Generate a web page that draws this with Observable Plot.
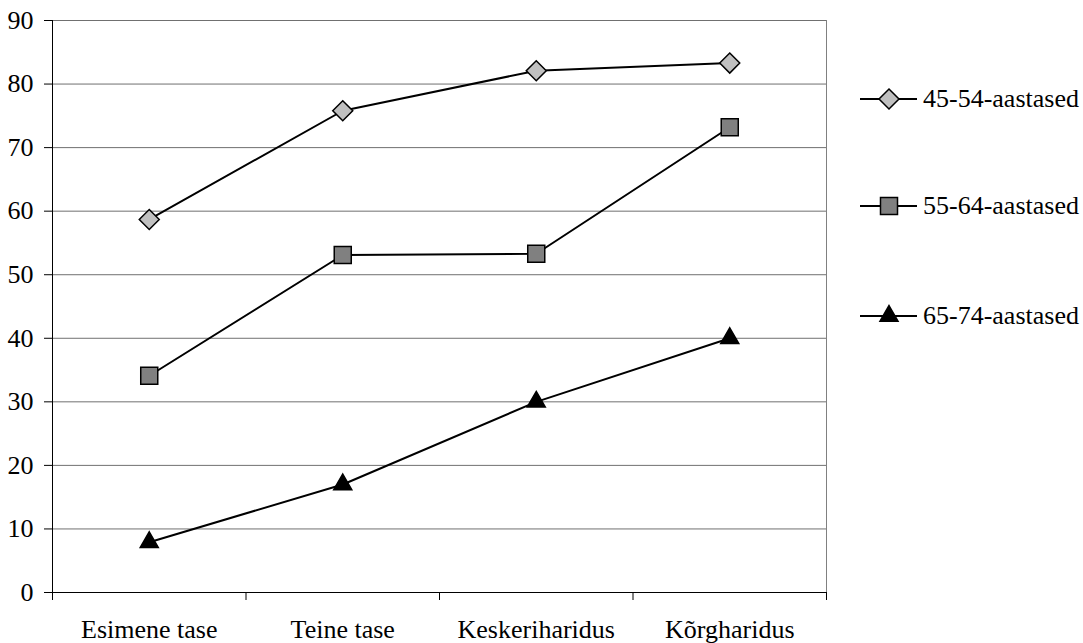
<!DOCTYPE html>
<html>
<head>
<meta charset="utf-8">
<script src="https://cdn.jsdelivr.net/npm/d3@7"></script>
<script src="https://cdn.jsdelivr.net/npm/@observablehq/plot@0.6"></script>
<style>
  body { margin: 0; background: #fff; }
  #wrap { position: relative; width: 1083px; height: 643px; }
  #wrap svg, #wrap text { font-family: "Liberation Serif", "Times New Roman", Tinos, "DejaVu Serif", serif !important; }
  #legend { position: absolute; left: 0; top: 0; }
</style>
</head>
<body>
<div id="wrap"></div>
<script>
const categories = ["Esimene tase", "Teine tase", "Keskeriharidus", "Kõrgharidus"];
const seriesNames = ["45-54-aastased", "55-64-aastased", "65-74-aastased"];
const values4554 = [58.7, 75.8, 82.1, 83.3];
const values5564 = [34.1, 53.1, 53.3, 73.2];
const values6574 = [7.9, 17.0, 30.0, 40.0];
const yTicks = [0, 10, 20, 30, 40, 50, 60, 70, 80, 90];

const seriesValues = [values4554, values5564, values6574];
const symbols = ["diamond2", "square", "triangle"];
const fills = ["#c0c0c0", "#808080", "#000000"];
const radii = [9, 9.6, 6.7];

const data = [];
seriesValues.forEach((vals, s) => vals.forEach((v, i) => data.push({series: seriesNames[s], idx: i + 0.5, value: v})));

const marks = [
  Plot.frame({stroke: "#808080"}),
  Plot.gridY(yTicks, {stroke: "#707070", strokeOpacity: 1}),
  Plot.ruleX([0], {stroke: "black"}),
  Plot.ruleY([0], {stroke: "black"}),
  Plot.axisY({ticks: yTicks, tickSize: 8, tickPadding: 11}),
  Plot.axisX({ticks: [0, 1, 2, 3, 4], tickSize: 8, tickFormat: () => ""}),
  Plot.axisX({ticks: [0.5, 1.5, 2.5, 3.5], tickSize: 0, tickPadding: 27, tickFormat: d => categories[Math.floor(d)]})
];
seriesNames.forEach((name, s) => {
  const rows = data.filter(d => d.series === name);
  marks.push(Plot.line(rows, {x: "idx", y: "value", stroke: "black", strokeWidth: 2}));
});
seriesNames.forEach((name, s) => {
  const rows = data.filter(d => d.series === name);
  marks.push(Plot.dot(rows, {x: "idx", y: "value", symbol: symbols[s], r: radii[s], fill: fills[s], stroke: "black", strokeWidth: 1.5}));
});

const chart = Plot.plot({
  width: 1083,
  height: 643,
  marginLeft: 52,
  marginRight: 257,
  marginTop: 20,
  marginBottom: 51,
  x: {domain: [0, 4], label: null, axis: null},
  y: {domain: [0, 90], label: null, axis: null},
  style: {fontSize: "26px", color: "black", background: "white"},
  marks
});
const wrap = document.getElementById("wrap");
wrap.appendChild(chart);

// Legend
const legend = d3.select(wrap).append("svg")
  .attr("id", "legend").attr("width", 1083).attr("height", 643);
const legendY = [99, 206, 316];
const d3syms = [d3.symbolDiamond2, d3.symbolSquare, d3.symbolTriangle];
seriesNames.forEach((name, s) => {
  const g = legend.append("g").attr("transform", `translate(0,${legendY[s]})`);
  g.append("line").attr("x1", 860).attr("x2", 917).attr("y1", 0).attr("y2", 0).attr("stroke", "black").attr("stroke-width", 2);
  g.append("path").attr("transform", "translate(889,0)")
    .attr("d", d3.symbol(d3syms[s], Math.PI * radii[s] * radii[s])())
    .attr("fill", fills[s]).attr("stroke", "black").attr("stroke-width", 1.5);
  g.append("text").attr("x", 923).attr("y", 0).attr("dy", "0.32em")
    .attr("font-size", 26).attr("fill", "black").text(name);
});
</script>
</body>
</html>
